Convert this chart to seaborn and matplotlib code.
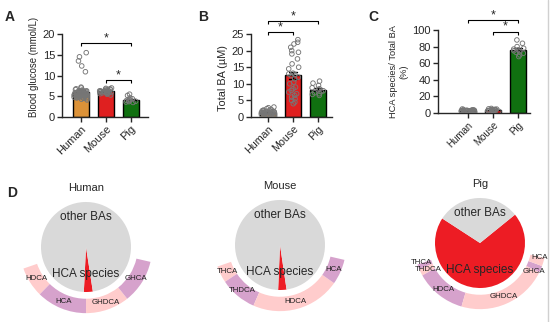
import numpy as np
import pandas as pd
import matplotlib
matplotlib.use("Agg")
import matplotlib.pyplot as plt
from matplotlib.lines import Line2D
import seaborn as sns

# ---------------- data ----------------
groups = ["Human", "Mouse", "Pig"]
bar_colors = ["#F7941D", "#FF0000", "#008000"]

# Blood glucose (mmol/L)
glucose_human = [4.1, 4.3, 4.4, 4.5, 4.6, 4.7, 4.8, 4.8, 4.9, 5.0, 5.0, 5.1, 5.1, 5.2,
                 5.2, 5.3, 5.3, 5.4, 5.4, 5.5, 5.5, 5.6, 5.6, 5.7, 5.7, 5.8, 5.8, 5.9,
                 6.0, 6.1, 6.2, 6.3, 6.4, 6.6, 6.8, 7.0, 7.2, 4.9, 5.6, 6.0,
                 5.0, 5.2, 5.4, 5.5, 5.6, 5.7, 5.8, 5.9, 6.0, 6.1, 6.2, 6.3, 6.5,
                 4.6, 5.3, 5.5, 5.7, 5.9, 6.1, 4.8,
                 15.5, 14.5, 13.5, 12.3, 10.9]
glucose_mouse = [5.3, 5.5, 5.6, 5.7, 5.8, 5.8, 5.9, 5.9, 6.0, 6.0, 6.0, 6.1, 6.1,
                 6.2, 6.2, 6.3, 6.3, 6.4, 6.4, 6.5, 6.6, 6.7, 6.8, 6.9, 7.0]
glucose_pig = [3.5, 3.6, 3.7, 3.8, 3.9, 4.0, 4.1, 4.2, 4.4, 4.6, 5.2, 5.5]

# Total BA (uM)
tba_human = [0.2, 0.3, 0.4, 0.5, 0.6, 0.7, 0.8, 0.8, 0.9, 1.0, 1.0, 1.1, 1.1, 1.2,
             1.2, 1.3, 1.3, 1.4, 1.4, 1.5, 1.5, 1.6, 1.6, 1.7, 1.8, 1.9, 2.0, 2.1,
             2.3, 2.5, 2.8, 3.0, 0.9, 1.2, 1.4, 0.6]
tba_mouse = [4.0, 4.5, 5.0, 5.5, 6.0, 6.5, 7.0, 7.5, 8.0, 8.5, 9.0, 10.0, 10.5, 11.5,
             12.0, 12.5, 12.8, 13.0, 13.2, 14.5, 15.0, 16.0, 17.5, 19.0, 19.5, 20.0,
             21.0, 22.0, 22.5, 23.3]
tba_pig = [6.5, 6.8, 7.0, 7.3, 7.6, 7.9, 8.2, 8.5, 8.8, 9.5, 10.2, 10.8]

# HCA species / Total BA (%)
hca_pct_human = [0.5, 0.8, 1.0, 1.2, 1.4, 1.5, 1.7, 1.8, 2.0, 2.1, 2.2, 2.3, 2.4, 2.5,
                 2.6, 2.7, 2.8, 2.9, 3.0, 3.1, 3.2, 3.4, 3.6, 3.8, 4.2, 4.8, 1.9, 2.2,
                 2.6, 3.0]
hca_pct_mouse = [1.5, 2.0, 2.5, 2.8, 3.0, 3.2, 3.4, 3.6, 3.8, 4.0, 4.2, 4.4, 4.7, 5.0,
                 5.5, 3.3, 3.9, 2.7]
hca_pct_pig = [68, 70, 72, 73, 74, 75, 76, 77, 78, 80, 84, 88]

# Pie composition: share of HCA species in the bile acid pool (%)
pie_hca_share = [3.2, 3.0, 70.0]

# Outer ring: make-up of the HCA species
ring_human_names = ["HDCA", "HCA", "GHDCA", "GHCA"]
ring_human_vals = [18, 30, 26, 26]
ring_mouse_names = ["THCA", "THDCA", "HDCA", "HCA"]
ring_mouse_vals = [10, 22, 53, 15]
ring_pig_names = ["THCA", "THDCA", "HDCA", "GHDCA", "GHCA", "HCA"]
ring_pig_vals = [3, 4, 30, 54, 4, 5]

# ---------------- style ----------------
sns.set_style("ticks")
plt.rcParams["font.family"] = ["Liberation Sans", "DejaVu Sans"]
plt.rcParams["axes.linewidth"] = 1.0

W, H = 550, 322
fig = plt.figure(figsize=(W / 100, H / 100), dpi=100)


def px_axes(left, top, right, bottom):
    return fig.add_axes([left / W, 1 - bottom / H, (right - left) / W, (bottom - top) / H])


def bracket(ax, x1, x2, y, drop, star_y):
    ax.plot([x1, x1, x2, x2], [y - drop, y, y, y - drop], color="black", lw=0.8,
            clip_on=False, solid_capstyle="butt")
    ax.text((x1 + x2) / 2, star_y, "*", ha="center", va="center", fontsize=9,
            clip_on=False)


def bar_panel(ax, series, ylim, yticks, xlim, ylabel, ylab_size, xt_size, ylab_y=0.5):
    df = pd.DataFrame({
        "group": np.concatenate([[g] * len(s) for g, s in zip(groups, series)]),
        "value": np.concatenate([np.asarray(s, float) for s in series]),
    })
    sns.barplot(data=df, x="group", y="value", hue="group", order=groups,
                hue_order=groups, palette=bar_colors, errorbar="se", capsize=0.35,
                width=0.65, edgecolor="black", linewidth=1,
                err_kws={"color": "black", "linewidth": 1}, legend=False, ax=ax)
    n0 = len(ax.collections)
    np.random.seed(4)
    sns.stripplot(data=df, x="group", y="value", order=groups, jitter=0.27,
                  size=3.3, color="#808080", ax=ax)
    for coll in ax.collections[n0:]:
        coll.set_facecolor("none")
        coll.set_edgecolor("#767676")
        coll.set_linewidth(0.65)
    sns.despine(ax=ax)
    ax.set_xlim(*xlim)
    ax.set_ylim(*ylim)
    ax.set_yticks(yticks)
    ax.set_xlabel("")
    ax.set_ylabel(ylabel, fontsize=ylab_size, labelpad=3)
    ax.yaxis.label.set_y(ylab_y)
    ax.tick_params(axis="both", direction="out", length=3.5, width=1, pad=1.5)
    ax.tick_params(axis="y", labelsize=8)
    ax.tick_params(axis="x", labelsize=xt_size)
    for lab in ax.get_xticklabels():
        lab.set_rotation(45)
        lab.set_ha("right")
        lab.set_rotation_mode("anchor")


# ---- A: blood glucose ----
axA = px_axes(62, 34, 148, 117)
bar_panel(axA, [glucose_human, glucose_mouse, glucose_pig], (0, 20), [0, 5, 10, 15, 20],
          (-0.75, 2.69), "Blood glucose (mmol/L)", 6.9, 8, ylab_y=0.6)
bracket(axA, 0, 2, 17.8, 0.8, 18.9)
bracket(axA, 1, 2, 8.9, 0.8, 10.1)

# ---- B: total BA ----
axB = px_axes(251, 34, 332, 117)
bar_panel(axB, [tba_human, tba_mouse, tba_pig], (0, 25), [0, 5, 10, 15, 20, 25],
          (-0.68, 2.56), "Total BA (\u00b5M)", 7.8, 7.7, ylab_y=0.47)
bracket(axB, 0, 2, 29.0, 1.0, 30.4)
bracket(axB, 0, 1, 25.6, 1.0, 27.0)

# ---- C: HCA species share ----
axC = px_axes(438, 30, 530, 113)
bar_panel(axC, [hca_pct_human, hca_pct_mouse, hca_pct_pig], (0, 100),
          [0, 20, 40, 60, 80, 100], (-1.2, 2.48), "HCA species/ Total BA\n(%)", 6.7, 7)
bracket(axC, 0, 2, 112, 4, 118)
bracket(axC, 1, 2, 98, 4, 104)

# ---- D: pie + ring charts ----
ring_light = "#FFCCCC"
ring_dark = "#D6A2CC"
pie_red = "#ED1C24"
pie_gray = "#D9D9D9"
R_PX = 45.0
RING_START, RING_SPAN = 199.0, 148.0

pie_specs = [
    ("Human", (86, 247), pie_hca_share[0], ring_human_names, ring_human_vals,
     [ring_light, ring_dark, ring_light, ring_dark], {}),
    ("Mouse", (280, 245), pie_hca_share[1], ring_mouse_names, ring_mouse_vals,
     [ring_light, ring_dark, ring_light, ring_dark], {}),
    ("Pig", (480, 243), pie_hca_share[2], ring_pig_names, ring_pig_vals,
     [ring_dark, ring_light, ring_dark, ring_light, ring_dark, ring_light],
     {"THCA": (198, 1.37), "THDCA": (207, 1.30), "GHCA": (332, 1.37), "HCA": (346, 1.36)}),
]

for title, (cx, cy), hca, names, vals, rcols, label_pos in pie_specs:
    half = 80
    ax = px_axes(cx - half, cy - half, cx + half, cy + half)
    lim = half / R_PX

    hca_deg = hca / 100 * 360
    ax.pie([hca, 100 - hca], colors=[pie_red, pie_gray], radius=1.0,
           startangle=273 - hca_deg / 2, counterclock=True,
           wedgeprops=dict(edgecolor="none", linewidth=0))

    fracs = np.asarray(vals, float) / np.sum(vals) * RING_SPAN / 360
    wedges, _ = ax.pie(fracs, colors=rcols, radius=1.47, normalize=False,
                       startangle=RING_START, counterclock=True,
                       wedgeprops=dict(width=0.32, edgecolor="none", linewidth=0))
    ax.set_aspect("auto")
    ax.set_xlim(-lim, lim)
    ax.set_ylim(-lim, lim)
    ax.axis("off")

    for name, w in zip(names, wedges):
        if name in label_pos:
            ang, rr = label_pos[name]
        else:
            ang, rr = (w.theta1 + w.theta2) / 2, 1.31
        a = np.deg2rad(ang)
        ax.text(rr * np.cos(a), rr * np.sin(a), name, ha="center", va="center",
                fontsize=5.7, color="#222222", clip_on=False)

    ax.text(0, 0.66, "other BAs", ha="center", va="center", fontsize=8.5)
    ax.text(0, -0.6, "HCA species", ha="center", va="center", fontsize=8.5)
    ax.text(0, 1.31, title, ha="center", va="center", fontsize=8)

# panel letters
for letter, (x, y) in {"A": (10, 17), "B": (203, 17), "C": (373, 17), "D": (12, 193)}.items():
    fig.text(x / W, 1 - y / H, letter, fontsize=10, fontweight="bold",
             ha="center", va="center")

# thin frame line on the right edge
fig.add_artist(Line2D([548 / W, 548 / W], [0, 1], color="#D0D0D0", lw=1))

fig.savefig("out.png", dpi=100)
